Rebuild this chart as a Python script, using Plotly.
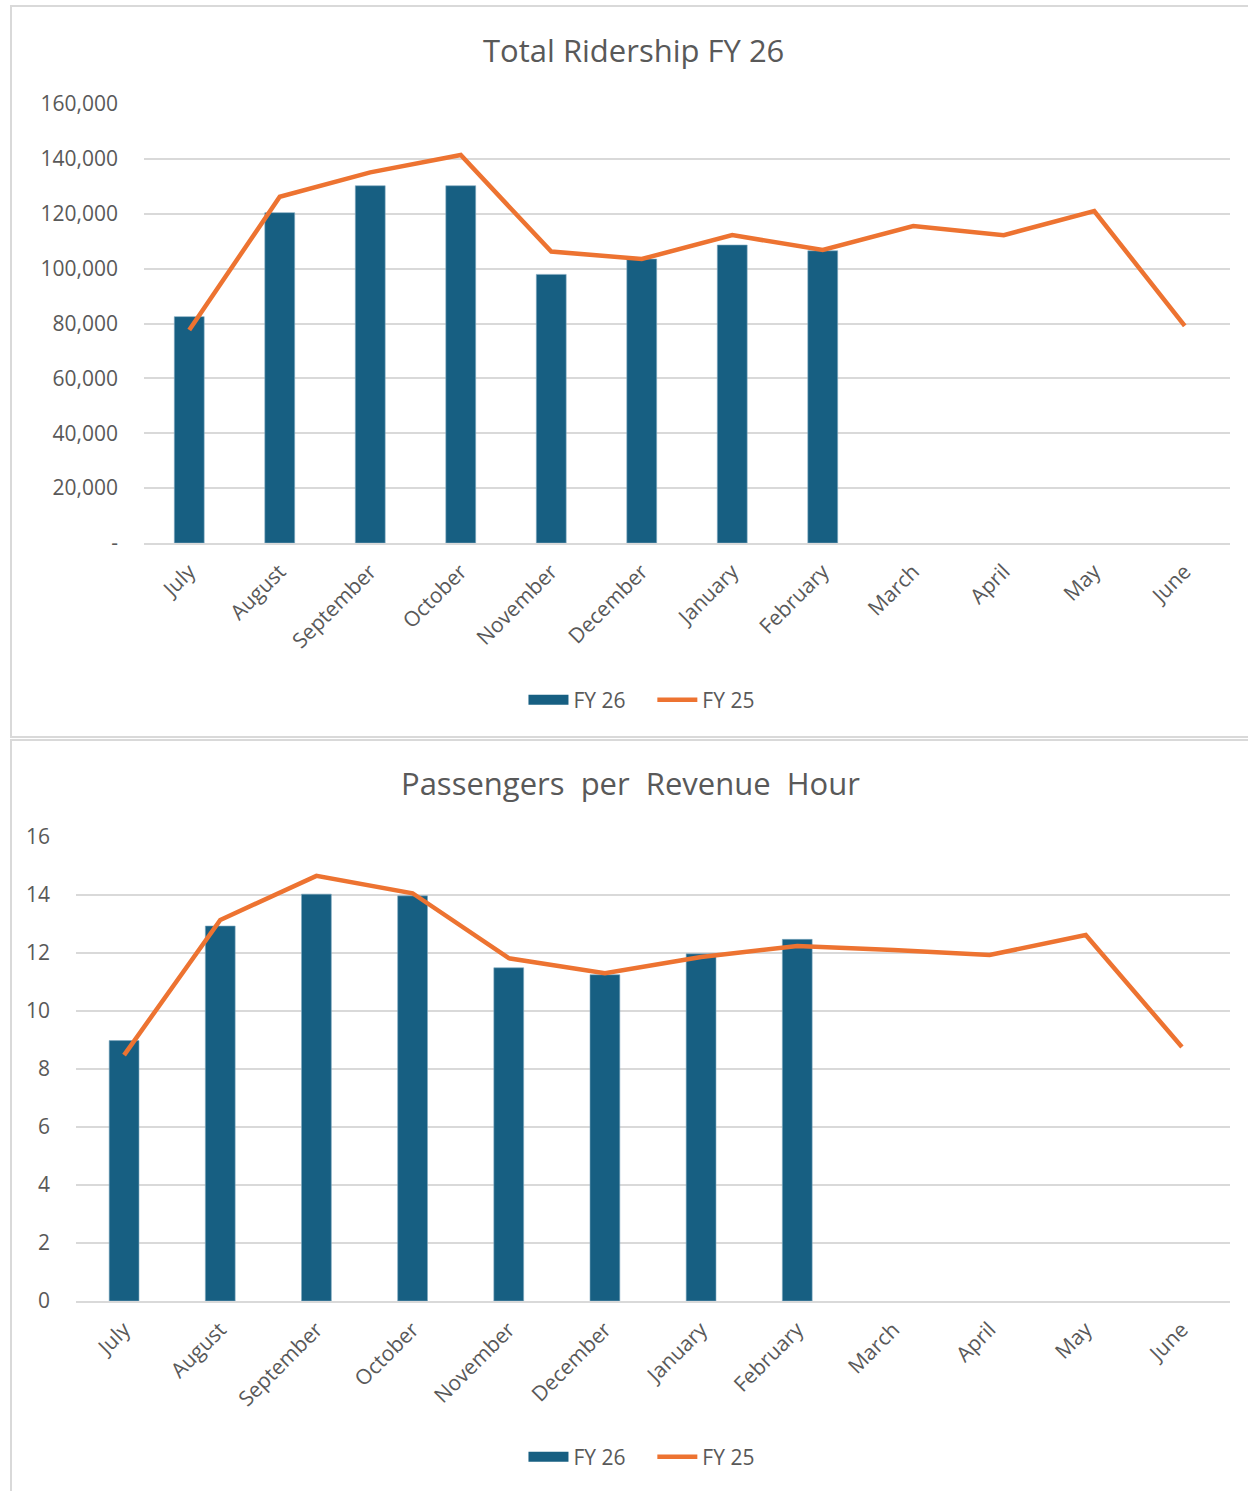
import plotly.graph_objects as go

months = ["July", "August", "September", "October", "November", "December",
          "January", "February", "March", "April", "May", "June"]

# Total ridership
rider_fy26 = [82500, 120400, 130200, 130200, 97900, 103500, 108600, 106500]
rider_fy25 = [77600, 126200, 135100, 141400, 106200, 103500, 112200, 106800,
              115500, 112200, 121000, 79100]
rider_tickvals = [0, 20000, 40000, 60000, 80000, 100000, 120000, 140000, 160000]
rider_ticktext = ["-", "20,000", "40,000", "60,000", "80,000", "100,000",
                  "120,000", "140,000", "160,000"]

# Passengers per revenue hour
pprh_fy26 = [8.98, 12.93, 14.03, 13.97, 11.49, 11.25, 11.97, 12.47]
pprh_fy25 = [8.48, 13.14, 14.66, 14.06, 11.82, 11.30, 11.86, 12.24,
             12.10, 11.93, 12.62, 8.76]
pprh_tickvals = [0, 2, 4, 6, 8, 10, 12, 14, 16]

BAR = "#175F82"
LINE = "#ED7331"
GRID = "#D9D9D9"
TXT = "#595959"
FONT = "Open Sans"

W, H = 1248, 1491


def px(x):
    return x / W


def py(y):
    return 1 - y / H


fig = go.Figure()

# --- Top chart ---
fig.add_trace(go.Bar(x=months[:len(rider_fy26)], y=rider_fy26, name="FY 26",
                     width=0.33, showlegend=False,
                     marker=dict(color=BAR, line=dict(color="#7FA9C0", width=0.6)),
                     xaxis="x", yaxis="y"))
fig.add_trace(go.Scatter(x=[None], y=[None], name="FY 26\u00a0\u00a0\u00a0\u00a0",
                         mode="lines", line=dict(color=BAR, width=15),
                         xaxis="x", yaxis="y", legend="legend"))
fig.add_trace(go.Scatter(x=months, y=rider_fy25, name="FY 25", mode="lines",
                         line=dict(color=LINE, width=4.5),
                         xaxis="x", yaxis="y", legend="legend"))

# --- Bottom chart ---
fig.add_trace(go.Bar(x=months[:len(pprh_fy26)], y=pprh_fy26, name="FY 26",
                     width=0.31, showlegend=False,
                     marker=dict(color=BAR, line=dict(color="#7FA9C0", width=0.6)),
                     xaxis="x2", yaxis="y2"))
fig.add_trace(go.Scatter(x=[None], y=[None], name="FY 26\u00a0\u00a0\u00a0\u00a0",
                         mode="lines", line=dict(color=BAR, width=15),
                         xaxis="x2", yaxis="y2", legend="legend2"))
fig.add_trace(go.Scatter(x=months, y=pprh_fy25, name="FY 25", mode="lines",
                         line=dict(color=LINE, width=4.5),
                         xaxis="x2", yaxis="y2", legend="legend2"))

xcommon = dict(type="category", categoryorder="array", categoryarray=months,
               range=[-0.5, 11.5], automargin=False,
               tickangle=-45, tickfont=dict(family=FONT, size=21, color=TXT),
               showgrid=False, showline=True, linecolor=GRID, linewidth=2,
               ticks="", ticklabelstandoff=6, fixedrange=True)
ycommon = dict(showgrid=True, gridcolor=GRID, gridwidth=1.5, zeroline=False,
               showline=False, ticks="", automargin=False,
               tickfont=dict(family=FONT, size=21, color=TXT),
               ticklabelstandoff=25, fixedrange=True)

legcommon = dict(orientation="h", x=0.514, xanchor="center", yanchor="middle",
                 font=dict(family=FONT, size=21, color=TXT),
                 itemwidth=40, tracegroupgap=0, bgcolor="rgba(0,0,0,0)")

fig.update_layout(
    width=W, height=H,
    margin=dict(l=0, r=0, t=0, b=0, autoexpand=False),
    paper_bgcolor="white", plot_bgcolor="white",
    font=dict(family=FONT, color=TXT),
    xaxis=dict(domain=[px(144), px(1230)], anchor="y", **xcommon),
    yaxis=dict(domain=[py(543), py(104)], anchor="x", range=[0, 160000],
               tickvals=rider_tickvals, ticktext=rider_ticktext, **ycommon),
    xaxis2=dict(domain=[px(76), px(1230)], anchor="y2", **xcommon),
    yaxis2=dict(domain=[py(1301), py(837)], anchor="x2", range=[0, 16],
                tickvals=pprh_tickvals, **ycommon),
    legend=dict(y=py(700), **legcommon),
    legend2=dict(y=py(1457), **legcommon),
    showlegend=True,
    annotations=[
        dict(text="Total Ridership FY 26", x=px(633), y=py(50), xref="paper",
             yref="paper", showarrow=False, xanchor="center", yanchor="middle",
             font=dict(family=FONT, size=31, color=TXT)),
        dict(text="Passengers\u00a0 per\u00a0 Revenue\u00a0 Hour", x=px(630),
             y=py(783), xref="paper", yref="paper", showarrow=False,
             xanchor="center", yanchor="middle",
             font=dict(family=FONT, size=31, color=TXT)),
    ],
    shapes=[
        dict(type="rect", xref="paper", yref="paper", x0=px(11), x1=1.01,
             y0=py(737), y1=py(6), line=dict(color=GRID, width=2)),
        dict(type="rect", xref="paper", yref="paper", x0=px(11), x1=1.01,
             y0=-0.01, y1=py(740), line=dict(color=GRID, width=2)),
    ],
)

fig.write_html(
    "out.html",
    config={"displayModeBar": False},
    post_script="document.body.style.margin='0';document.body.style.overflow='hidden';",
)
